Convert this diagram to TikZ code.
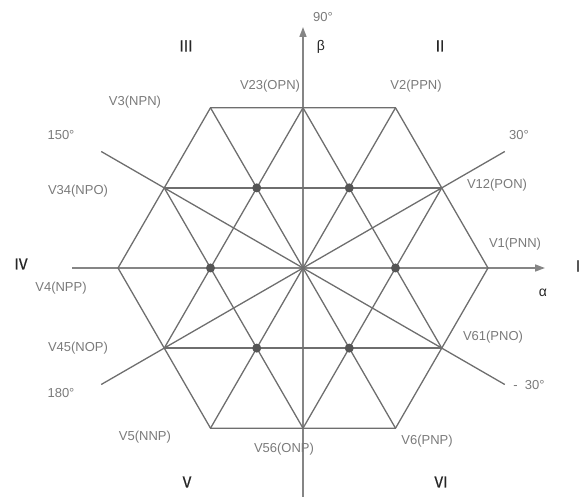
\documentclass[tikz,border=0pt]{standalone}
\usepackage{fontspec}
\setmainfont{Liberation Sans}
\newfontfamily\numfont[FakeBold=0.6]{Noto Sans CJK SC}
\usetikzlibrary{arrows.meta,calc}
\definecolor{gridc}{HTML}{6E6E6E}
\definecolor{axisc}{HTML}{858585}
\definecolor{lblc}{HTML}{7A7A7A}
\definecolor{romc}{HTML}{262626}
\definecolor{dotcol}{HTML}{555555}
\begin{document}
\begin{tikzpicture}[x=1pt,y=1pt,
  gridline/.style={draw=gridc,line width=1.3pt},
  axisline/.style={draw=axisc,line width=1.6pt,-{Triangle[length=10pt,width=7pt]}},
  lbl/.style={text=lblc,font=\fontsize{13}{15}\selectfont,inner sep=0pt},
  roman/.style={text=romc,font=\numfont\fontsize{15}{17}\selectfont,inner sep=0pt},
  greek/.style={text=romc,font=\fontsize{14}{16}\selectfont,inner sep=0pt},
  vdot/.style={circle,fill=dotcol,inner sep=0pt,minimum size=9pt}]
\useasboundingbox (0,0) rectangle (584,498);
\coordinate (O) at (303,230);
% hexagon vertices, edge midpoints, inner dots
\foreach \k in {0,...,5}{
  \coordinate (V\k) at ($(O)+(60*\k:185)$);
  \coordinate (M\k) at ($(O)+(30+60*\k:160.2)$);
  \coordinate (D\k) at ($(O)+(60*\k:92.5)$);
}
% axis ends
\coordinate (ax0) at (72,230);
\coordinate (ax1) at (545,230);
\coordinate (by0) at (303,1);
\coordinate (by1) at (303,471);
% 30 / 150 deg line ends
\coordinate (L30) at ($(O)+(30:233)$);
\coordinate (L210) at ($(O)+(210:233)$);
\coordinate (L150) at ($(O)+(150:233)$);
\coordinate (L330) at ($(O)+(330:233)$);
% axes
\draw[axisline] (ax0) -- (ax1);
\draw[axisline] (by0) -- (by1);
% grid
\draw[gridline] (V0) -- (V1) -- (V2) -- (V3) -- (V4) -- (V5) -- cycle;
\draw[gridline] (V1) -- (V4);
\draw[gridline] (V2) -- (V5);
\draw[gridline] (M0) -- (M2);
\draw[gridline] (M1) -- (M3);
\draw[gridline] (M2) -- (M4);
\draw[gridline] (M3) -- (M5);
\draw[gridline] (M4) -- (M0);
\draw[gridline] (M5) -- (M1);
\draw[gridline] (L30) -- (L210);
\draw[gridline] (L150) -- (L330);
% dots
\foreach \k in {0,...,5}{\node[vdot] (dot\k) at (D\k) {};}
% labels
\node[lbl] (t90) at (323,481) {90°};
\node[greek] (beta) at (321,451) {β};
\node[greek] (alpha) at (543,205) {α};
\node[roman] (r3) at (186,452) {Ⅲ};
\node[roman] (r2) at (440,452) {Ⅱ};
\node[roman] (r4) at (21,234) {Ⅳ};
\node[roman] (r1) at (578,232) {Ⅰ};
\node[roman] (r5) at (187,16) {Ⅴ};
\node[roman] (r6) at (441,16) {Ⅵ};
\node[lbl] (v23) at (270,412) {V23(OPN)};
\node[lbl] (v2) at (416,412) {V2(PPN)};
\node[lbl] (v3) at (135,396) {V3(NPN)};
\node[lbl] (a150) at (61,363) {150°};
\node[lbl] (v34) at (78,307) {V34(NPO)};
\node[lbl] (v4) at (61,210) {V4(NPP)};
\node[lbl] (a30) at (519,363) {30°};
\node[lbl] (v12) at (497,313) {V12(PON)};
\node[lbl] (v1) at (515,254) {V1(PNN)};
\node[lbl] (v45) at (78,150) {V45(NOP)};
\node[lbl] (a180) at (61,105) {180°};
\node[lbl] (v5) at (145,61) {V5(NNP)};
\node[lbl] (v61) at (493,161) {V61(PNO)};
\node[lbl] (am30) at (529,113) {-\ \ 30°};
\node[lbl] (v6) at (427,57) {V6(PNP)};
\node[lbl] (v56) at (284,49) {V56(ONP)};
\end{tikzpicture}
\end{document}
